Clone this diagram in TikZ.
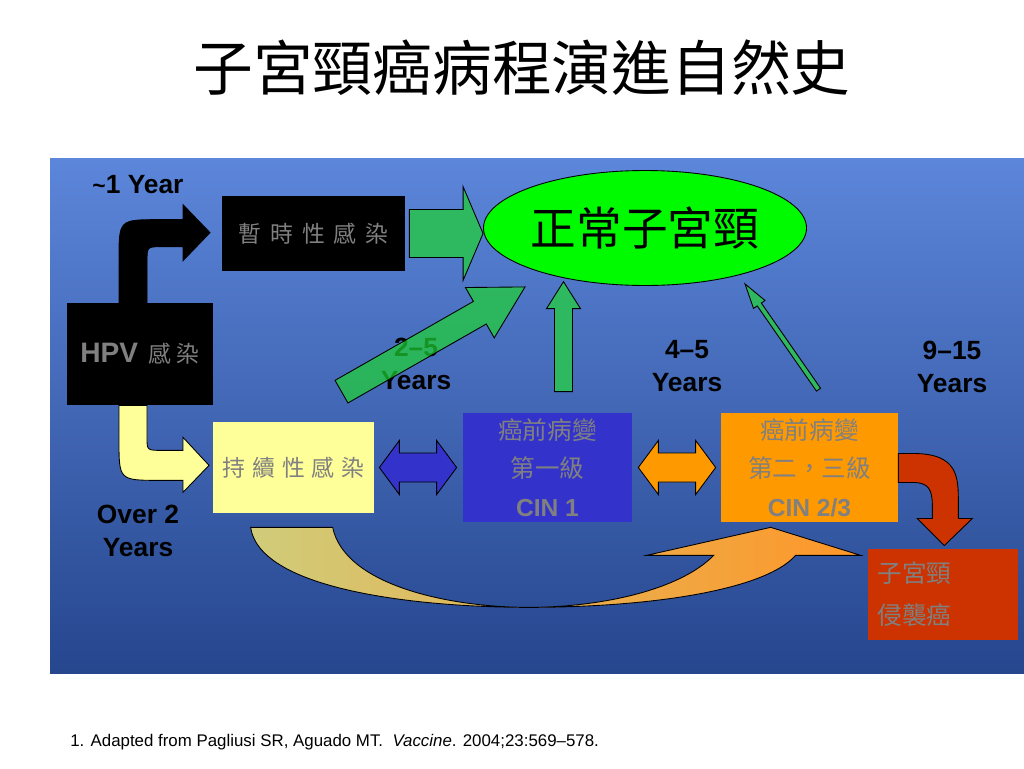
\documentclass[tikz,border=0pt]{standalone}
\usepackage{fontspec}
\setmainfont{Liberation Sans}
\newfontfamily\cjk{Noto Sans CJK TC}
\usetikzlibrary{shapes.geometric, positioning, calc}

\definecolor{bgtop}{RGB}{92,134,218}
\definecolor{bgbot}{RGB}{38,70,142}
\definecolor{arrowgreen}{RGB}{46,184,96}
\definecolor{glassgreen}{RGB}{31,211,51}
\definecolor{normalgreen}{RGB}{0,250,0}
\definecolor{paleyellow}{RGB}{255,255,153}
\definecolor{cinblue}{RGB}{51,51,204}
\definecolor{cinorange}{RGB}{255,153,0}
\definecolor{cancerred}{RGB}{204,51,0}
\definecolor{boxgray}{RGB}{128,128,128}
\definecolor{tan}{RGB}{208,204,122}
\definecolor{lightorange}{RGB}{250,196,110}
\definecolor{deeporange}{RGB}{255,150,40}

% straight block arrow: style, from, to, shaft half width, head half width, head length
\newcommand{\blockarrow}[6]{%
  \coordinate (ba-a) at (#2);
  \coordinate (ba-b) at (#3);
  \coordinate (ba-h) at ($(ba-b)!#6!(ba-a)$);
  \draw[#1] ($(ba-a)!#4!90:(ba-b)$) -- ($(ba-h)!#4!90:(ba-b)$) -- ($(ba-h)!#5!90:(ba-b)$) -- (ba-b)
    -- ($(ba-h)!#5!-90:(ba-b)$) -- ($(ba-h)!#4!-90:(ba-b)$) -- ($(ba-a)!#4!-90:(ba-b)$) -- cycle;
}
% two-headed block arrow: same arguments
\newcommand{\dblarrow}[6]{%
  \coordinate (da-a) at (#2);
  \coordinate (da-b) at (#3);
  \coordinate (da-h1) at ($(da-a)!#6!(da-b)$);
  \coordinate (da-h2) at ($(da-b)!#6!(da-a)$);
  \draw[#1] (da-a) -- ($(da-h1)!#5!90:(da-b)$) -- ($(da-h1)!#4!90:(da-b)$) -- ($(da-h2)!#4!90:(da-b)$)
    -- ($(da-h2)!#5!90:(da-b)$) -- (da-b) -- ($(da-h2)!#5!-90:(da-b)$) -- ($(da-h2)!#4!-90:(da-b)$)
    -- ($(da-h1)!#4!-90:(da-b)$) -- ($(da-h1)!#5!-90:(da-b)$) -- cycle;
}

\begin{document}
\begin{tikzpicture}[
    x=0.02cm, y=-0.02cm,
    stagebox/.style={rectangle, inner sep=0pt, align=center, text=boxgray},
    cinbox/.style={stagebox, minimum height=2.18cm, font=\fontsize{14}{22}\selectfont},
    years/.style={font=\bfseries\fontsize{15}{18.7}\selectfont, align=center},
    blockline/.style={draw=black, line width=0.5pt},
    greenarrow/.style={blockline, fill=arrowgreen}
]
    \useasboundingbox (0,0) rectangle (1024,768);
    \fill[white] (0,0) rectangle (1024,768);

    % Title
    \node (title) at (522,68) {\cjk\fontsize{34}{40}\selectfont 子宮頸癌病程演進自然史};

    % Panel
    \shade[top color=bgtop, bottom color=bgbot] (50,158) rectangle (1024,673);

    % Stages
    \node[stagebox, fill=black, minimum width=3.66cm, minimum height=1.5cm,
          font=\cjk\fontsize{13}{15}\selectfont] (transient) at (313.5,233.5)
          {暫\hspace{5pt}時\hspace{5pt}性\hspace{5pt}感\hspace{5pt}染};
    \node[ellipse, draw=black, line width=0.5pt, fill=normalgreen, inner sep=0pt,
          minimum width=6.32cm, minimum height=2.3cm] (normal) at (645,228)
          {\cjk\fontsize{26}{30}\selectfont 正常子宮頸};
    \node[stagebox, fill=black, minimum width=2.92cm, minimum height=2.04cm] (hpv) at (140,354)
          {{\bfseries\fontsize{16}{18}\selectfont HPV}\hspace{6pt}{\cjk\fontsize{13}{15}\selectfont 感\hspace{3pt}染}};
    \node[stagebox, fill=paleyellow, minimum width=3.22cm, minimum height=1.82cm,
          font=\cjk\fontsize{13}{15}\selectfont] (persistent) at (293.5,467.5)
          {持\hspace{4pt}續\hspace{4pt}性\hspace{4pt}感\hspace{4pt}染};
    \node[cinbox, fill=cinblue, minimum width=3.38cm] (cin1) at (547.5,467.5)
          {{\cjk 癌前病變}\\{\cjk 第一級}\\\textbf{CIN 1}};
    \node[cinbox, fill=cinorange, minimum width=3.54cm] (cin23) at (809.5,467.5)
          {{\cjk 癌前病變}\\{\cjk 第二，三級}\\\textbf{CIN 2/3}};
    \node[stagebox, fill=cancerred, minimum width=3.02cm, minimum height=1.82cm,
          inner xsep=0.2cm, text width=2.62cm, align=left,
          font=\cjk\fontsize{14}{23.8}\selectfont] (cancer) at (943,594)
          {子宮頸\\侵襲癌};

    % Time labels
    \node[years] (oneyear) at (138,185) {{\fontsize{13}{13}\selectfont\textasciitilde}1 Year};
    \node[years] (twofive) at (416,364) {2–5\\Years};
    \node[years] (fourfive) at (687,366) {4–5\\Years};
    \node[years] (ninefifteen) at (952,367) {9–15\\Years};
    \node[years] (overtwo) at (138,531) {Over 2\\Years};

    % HPV -> transient / persistent
    \draw[blockline, fill=black, shift={(hpv.north)}] (-21,0) -- (-21,-43) .. controls (-21,-83) .. (19,-83)
        -- (43,-83) -- (43,-98) -- (70,-70) -- (43,-42) -- (43,-56) -- (22,-56)
        .. controls (7,-56) .. (7,-41) -- (7,0) -- cycle;
    \draw[blockline, fill=paleyellow, shift={(hpv.south)}] (-21,0) -- (-21,35) .. controls (-21,75) .. (20,75)
        -- (43,75) -- (43,87) -- (69,60) -- (43,32) -- (43,45) -- (22,45)
        .. controls (7,45) .. (7,32) -- (7,0) -- cycle;

    % Regression to normal
    \blockarrow{greenarrow}{$(transient.east)+(4,0)$}{transient.east -| normal.west}{0.48cm}{0.94cm}{0.4cm}
    \blockarrow{blockline, fill=glassgreen, fill opacity=0.7}{$(persistent.north)+(48,-30)$}{$(normal.south)+(-120,1)$}{0.26cm}{0.58cm}{1.04cm}
    \blockarrow{greenarrow}{$(cin1.north)+(16,-21)$}{$(cin1.north)+(16,-131)$}{0.18cm}{0.34cm}{0.54cm}
    \blockarrow{greenarrow}{$(cin23.north)+(9,-23)$}{$(normal.south)+(100,-2)$}{0.05cm}{0.14cm}{0.5cm}

    % Progression between stages
    \dblarrow{blockline, fill=cinblue}{$(persistent.east)+(5,0)$}{$(cin1.west)+(-6,0)$}{0.29cm}{0.54cm}{0.4cm}
    \dblarrow{blockline, fill=cinorange}{$(cin1.east)+(6,0)$}{$(cin23.west)+(-5,0)$}{0.29cm}{0.54cm}{0.4cm}

    % CIN 2/3 -> invasive cancer
    \draw[blockline, fill=cancerred, shift={(cin23.east)}] (0,-14) -- (15,-14) .. controls (60,-14) and (60,10) .. (60,35)
        -- (60,51) -- (74,51) -- (46,78) -- (19,51) -- (34,51) -- (34,38)
        .. controls (34,22) and (30,15) .. (15,15) -- (0,15) -- cycle;

    % Persistent infection -> CIN 2/3
    \shade[blockline, left color=tan, middle color=lightorange, right color=deeporange, shift={(persistent.south west)}]
        (38,14) .. controls (47,77) and (207,94) .. (316,94) .. controls (437,94) and (552,77) .. (583,42)
        -- (648,42) -- (558,14) -- (434,42) -- (501,42) .. controls (467,77) and (387,94) .. (316,94)
        .. controls (237,94) and (132,72) .. (120,14) -- cycle;

    % Source
    \node[anchor=west, inner sep=0pt, font=\fontsize{9.6}{11}\selectfont] (source) at (70,742)
        {1. Adapted from Pagliusi SR, Aguado MT.\ \ \textit{Vaccine}. 2004;23:569–578.};
\end{tikzpicture}
\end{document}
